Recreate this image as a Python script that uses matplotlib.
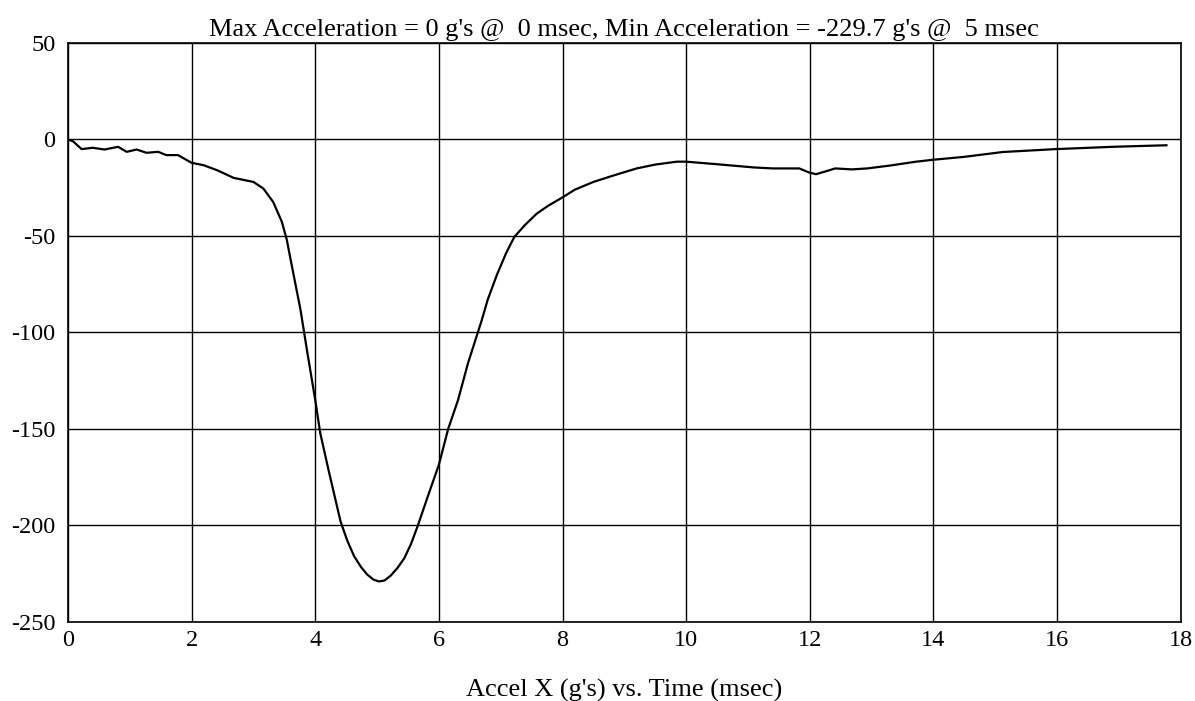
import numpy as np
import matplotlib
matplotlib.use("Agg")
import matplotlib.pyplot as plt

plt.rcParams['font.family'] = ['Liberation Serif', 'DejaVu Serif']
plt.rcParams['axes.unicode_minus'] = False

# time (msec) and acceleration (g's)
time_ms = [0.0, 0.08, 0.22, 0.4, 0.59, 0.81, 0.95, 1.11, 1.27, 1.46, 1.59, 1.78,
           2.0, 2.19, 2.41, 2.68, 3.0, 3.16, 3.32, 3.46, 3.54, 3.6, 3.76, 3.87,
           4.0, 4.08, 4.22, 4.41, 4.52, 4.63, 4.74, 4.84, 4.94, 5.03, 5.12, 5.22,
           5.33, 5.44, 5.55, 5.66, 5.82,
           6.0, 6.15, 6.31, 6.47, 6.69, 6.79, 6.94, 7.09, 7.22, 7.39, 7.58, 7.77,
           8.0, 8.2, 8.5, 8.84, 9.2, 9.5, 9.85, 10.0, 10.49, 11.1, 11.4, 11.83,
           11.98, 12.1, 12.26, 12.41, 12.68, 12.93, 13.3, 13.72, 14.0, 14.5,
           15.12, 15.97, 16.9, 17.77]
accel_g = [0.0, -0.9, -5.0, -4.3, -5.2, -3.8, -6.4, -5.2, -6.9, -6.4, -8.1, -8.1,
           -12.1, -13.3, -15.9, -19.9, -22.0, -25.4, -32.4, -42.7, -52.0, -62.0, -88.0, -110.0,
           -135.0, -152.0, -172.0, -198.0, -208.0, -216.0, -221.5, -225.4, -228.0, -229.0, -228.5, -226.0,
           -222.0, -217.0, -209.5, -200.0, -185.0,
           -168.5, -150.0, -135.0, -116.0, -94.0, -83.0, -70.0, -58.7, -50.5, -44.4, -38.5, -34.3,
           -30.0, -26.0, -22.0, -18.5, -15.0, -13.0, -11.5, -11.5, -12.8, -14.5, -15.0, -15.0,
           -17.0, -18.0, -16.5, -15.0, -15.5, -15.0, -13.5, -11.5, -10.5, -9.0,
           -6.5, -5.0, -3.8, -3.0]

xticks = np.arange(0, 19, 2)
yticks = np.arange(-250, 51, 50)

fig = plt.figure(figsize=(11.95, 7.01), dpi=100)
ax = fig.add_axes([0.0569, 0.1127, 0.9311, 0.826])
ax.plot(time_ms, accel_g, color='black', lw=1.6)
ax.set_xlim(0, 18)
ax.set_ylim(-250, 50)
ax.set_xticks(xticks)
ax.set_yticks(yticks)
ax.grid(True, color='black', lw=1.0)
ax.tick_params(length=0, labelsize=17.5)
ax.tick_params(axis='y', pad=9)
ax.tick_params(axis='x', pad=6)
for s in ax.spines.values():
    s.set_linewidth(1.2)
ax.set_title("Max Acceleration = 0 g's @  0 msec, Min Acceleration = -229.7 g's @  5 msec",
             fontsize=19, pad=5)
ax.set_xlabel("Accel X (g's) vs. Time (msec)", fontsize=19, labelpad=20)

fig.savefig("out.png", dpi=100)
